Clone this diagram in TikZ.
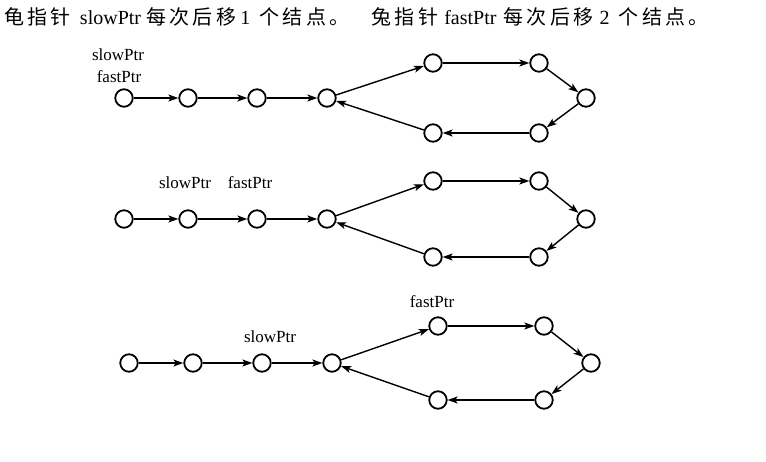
\documentclass[tikz,border=0pt]{standalone}
\usepackage{fontspec}
\setmainfont{Liberation Serif}
\newfontfamily\cjk[LetterSpace=17]{Noto Sans CJK SC}
\usetikzlibrary{arrows.meta}
\tikzset{
  pnode/.style={circle,draw,line width=1.8pt,minimum size=17.5pt,inner sep=0pt},
  link/.style={-{Stealth[length=10pt,width=7pt,inset=2.5pt]},line width=1.4pt},
  lbl/.style={font=\fontsize{17}{17}\selectfont,inner sep=0pt},
  ttl/.style={font=\fontsize{20}{24}\selectfont,inner sep=0pt,anchor=west}
}
\newcommand\drawrow[4]{%
\begin{scope}[shift={(#2,#3)}]
\node[pnode] (#1n1) at (124,0) {};
\node[pnode] (#1n2) at (188,0) {};
\node[pnode] (#1n3) at (257,0) {};
\node[pnode] (#1n4) at (327,0) {};
\node[pnode] (#1t1) at (433,-#4) {};
\node[pnode] (#1t2) at (539,-#4) {};
\node[pnode] (#1r) at (586,0) {};
\node[pnode] (#1b2) at (539,#4) {};
\node[pnode] (#1b1) at (433,#4) {};
\draw[link] (#1n1) -- (#1n2);
\draw[link] (#1n2) -- (#1n3);
\draw[link] (#1n3) -- (#1n4);
\draw[link] (#1n4) -- (#1t1);
\draw[link] (#1t1) -- (#1t2);
\draw[link] (#1t2) -- (#1r);
\draw[link] (#1r) -- (#1b2);
\draw[link] (#1b2) -- (#1b1);
\draw[link] (#1b1) -- (#1n4);
\end{scope}}
\begin{document}
\begin{tikzpicture}[x=1pt,y=-1pt]
\useasboundingbox[fill=white] (0,0) rectangle (766,462);
\node[ttl] (title) at (4,17) {{\cjk 龟指针}\hspace{9pt}slowPtr\hspace{5pt}{\cjk 每次后移}\hspace{4pt}1\hspace{9pt}{\cjk 个结点。}\hspace{22pt}{\cjk 兔指针}\hspace{6pt}fastPtr\hspace{7pt}{\cjk 每次后移}\hspace{6pt}2\hspace{9pt}{\cjk 个结点。}};
\drawrow{A}{0}{98}{35}
\drawrow{B}{0}{219}{38}
\drawrow{C}{5}{363}{37}
\node[lbl] (As) at (118,55) {slowPtr};
\node[lbl] (Af) at (119,77) {fastPtr};
\node[lbl] (Bs) at (185,183) {slowPtr};
\node[lbl] (Bf) at (250,183) {fastPtr};
\node[lbl] (Cs) at (270,337) {slowPtr};
\node[lbl] (Cf) at (432,302) {fastPtr};
\end{tikzpicture}
\end{document}
